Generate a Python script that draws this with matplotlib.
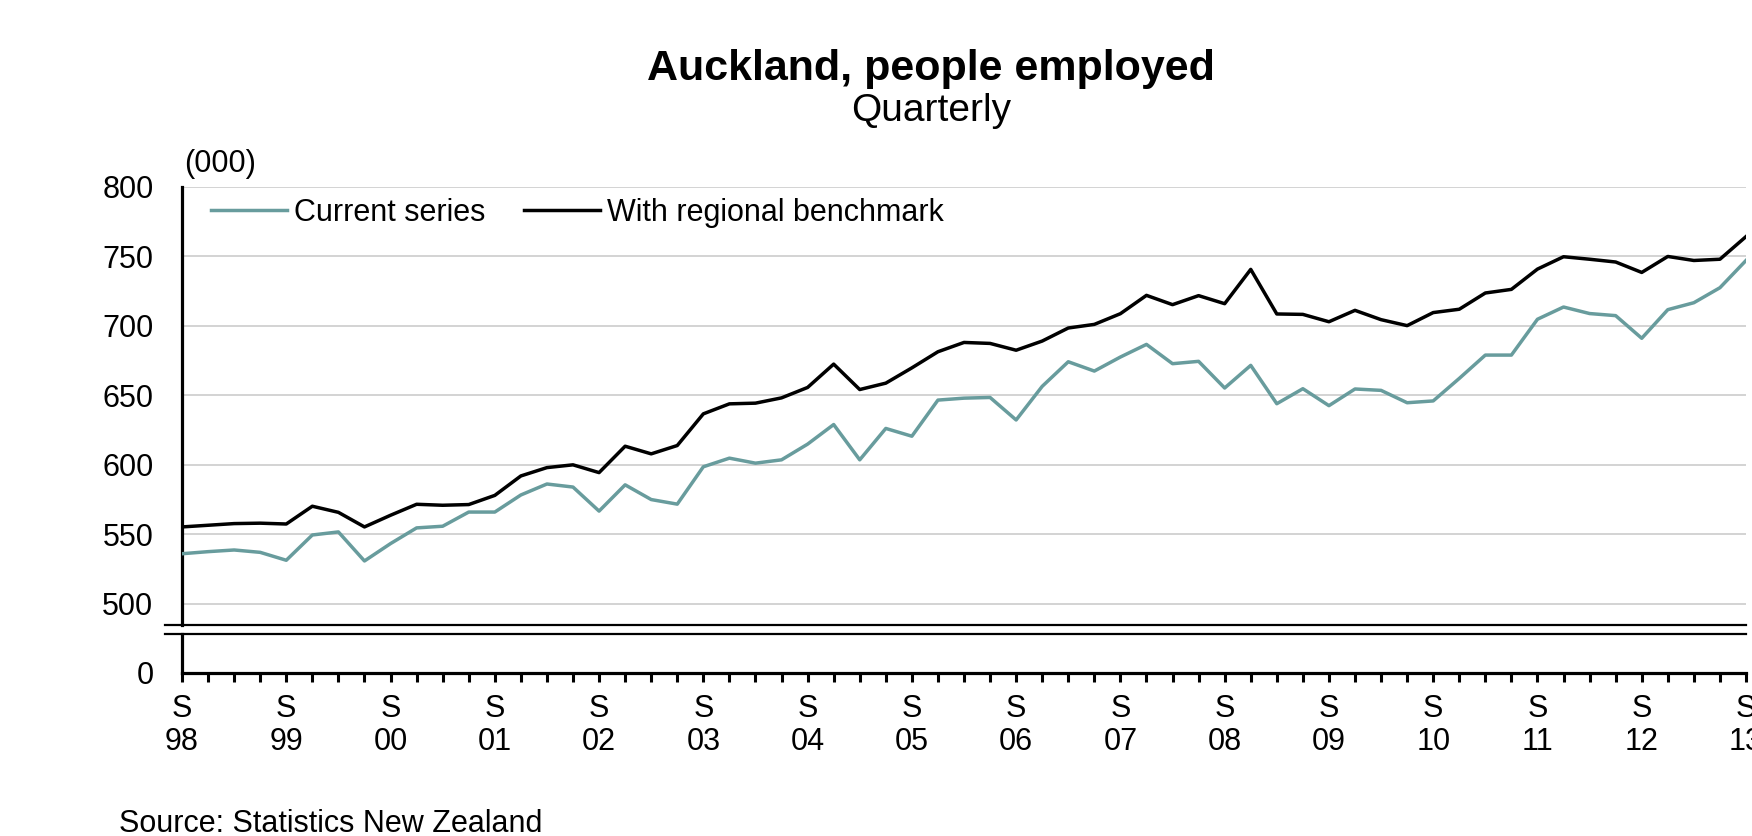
import numpy as np
import matplotlib
matplotlib.use('Agg')
import matplotlib.pyplot as plt

plt.rcParams['font.family'] = ['Liberation Sans', 'DejaVu Sans']

# 季度数据 S98 - S13 (千人)
years = ['98', '99', '00', '01', '02', '03', '04', '05', '06', '07',
         '08', '09', '10', '11', '12', '13']
current = [536, 537.5, 538.7, 537, 531.3, 549.5, 551.7, 530.8, 543.3, 554.6,
           555.8, 566, 566, 578.3, 586.2, 584, 566.7, 585.6, 575, 571.7,
           598.6, 604.8, 601.2, 603.6, 614.9, 629, 603.6, 626.2, 620.6, 646.6,
           648, 648.5, 632.3, 656.5, 674.2, 667.5, 677.6, 686.7, 672.8, 674.5,
           655.3, 671.6, 644, 654.8, 642.6, 654.6, 653.6, 644.7, 646, 662.2,
           679, 679, 704.8, 713.6, 708.9, 707.4, 691.1, 711.7, 716.7, 727.5,
           747.1]
benchmark = [555.3, 556.5, 557.7, 558, 557.4, 570.2, 565.8, 555.3, 563.7, 571.6,
             570.9, 571.4, 578, 592, 598, 600, 594.4, 613.4, 607.9, 613.9,
             636.7, 643.9, 644.4, 648.2, 655.7, 672.5, 654.2, 658.8, 669.8, 681.4,
             688.1, 687.4, 682.5, 689.1, 698.5, 701.1, 708.8, 722, 715.3, 721.8,
             716, 740.7, 708.6, 708.3, 703, 711.2, 704.5, 700.2, 709.6, 712,
             723.7, 726.3, 740.9, 749.8, 748, 746, 738.5, 750, 747.1, 748,
             764.3]
yticks = [500, 550, 600, 650, 700, 750, 800]

teal = '#689c9d'
x = np.arange(len(current))
W, H = 1752, 836

fig = plt.figure(figsize=(W / 100, H / 100), dpi=100)
ax = fig.add_axes([182 / W, 1 - 625 / H, 1564 / W, 438 / H])
axb = fig.add_axes([182 / W, 1 - 673 / H, 1564 / W, 39 / H])

# 上半部分
ax.plot(x, current, color=teal, lw=2.5, label='Current series', zorder=3)
ax.plot(x, benchmark, color='black', lw=2.5, label='With regional benchmark', zorder=3)
ax.set_xlim(0, len(current) - 1)
ax.set_ylim(484.7, 800)
ax.set_yticks(yticks)
ax.yaxis.grid(True, color='#d0d0d0', lw=1.3)
ax.set_axisbelow(True)
ax.tick_params(axis='y', length=0, pad=20.6, labelsize=22)
ax.tick_params(axis='x', bottom=False, labelbottom=False)
for s in ['top', 'right', 'bottom']:
    ax.spines[s].set_visible(False)
ax.spines['left'].set_linewidth(2.3)
ax.axhline(484.7, xmin=-0.011, xmax=1, color='black', lw=1.6, clip_on=False)

# 下半部分 (断轴)
axb.set_xlim(0, len(current) - 1)
axb.set_ylim(0, 28.1)
axb.set_yticks([0])
axb.tick_params(axis='y', length=0, pad=20.6, labelsize=22)
axb.set_xticks(np.arange(0, len(current), 4))
axb.set_xticklabels(['S\n' + y for y in years], linespacing=1.15)
axb.set_xticks(x, minor=True)
axb.tick_params(axis='x', which='both', direction='out', length=6.5, width=2.2,
                labelsize=22, pad=8.5)
for s in ['top', 'right']:
    axb.spines[s].set_visible(False)
axb.spines['left'].set_linewidth(2.3)
axb.spines['bottom'].set_linewidth(2.3)
axb.axhline(28.1, xmin=-0.011, xmax=1, color='black', lw=1.6, clip_on=False)

ax.legend(loc='center left', bbox_to_anchor=(211 / W, 1 - 213 / H),
          bbox_transform=fig.transFigure, ncol=2, frameon=False, fontsize=22,
          handlelength=2.5, handletextpad=0.23, columnspacing=1.24,
          borderpad=0, borderaxespad=0)

fig.text(931 / W, 1 - 80 / H, 'Auckland, people employed', ha='center',
         va='baseline', fontsize=31, fontweight='bold')
fig.text(931 / W, 1 - 121 / H, 'Quarterly', ha='center', va='baseline', fontsize=28)
fig.text(184 / W, 1 - 164 / H, '(000)', ha='left', va='center', fontsize=22)
fig.text(119 / W, 1 - 824 / H, 'Source: Statistics New Zealand', ha='left',
         va='center', fontsize=22)

fig.savefig('out.png', dpi=100)
